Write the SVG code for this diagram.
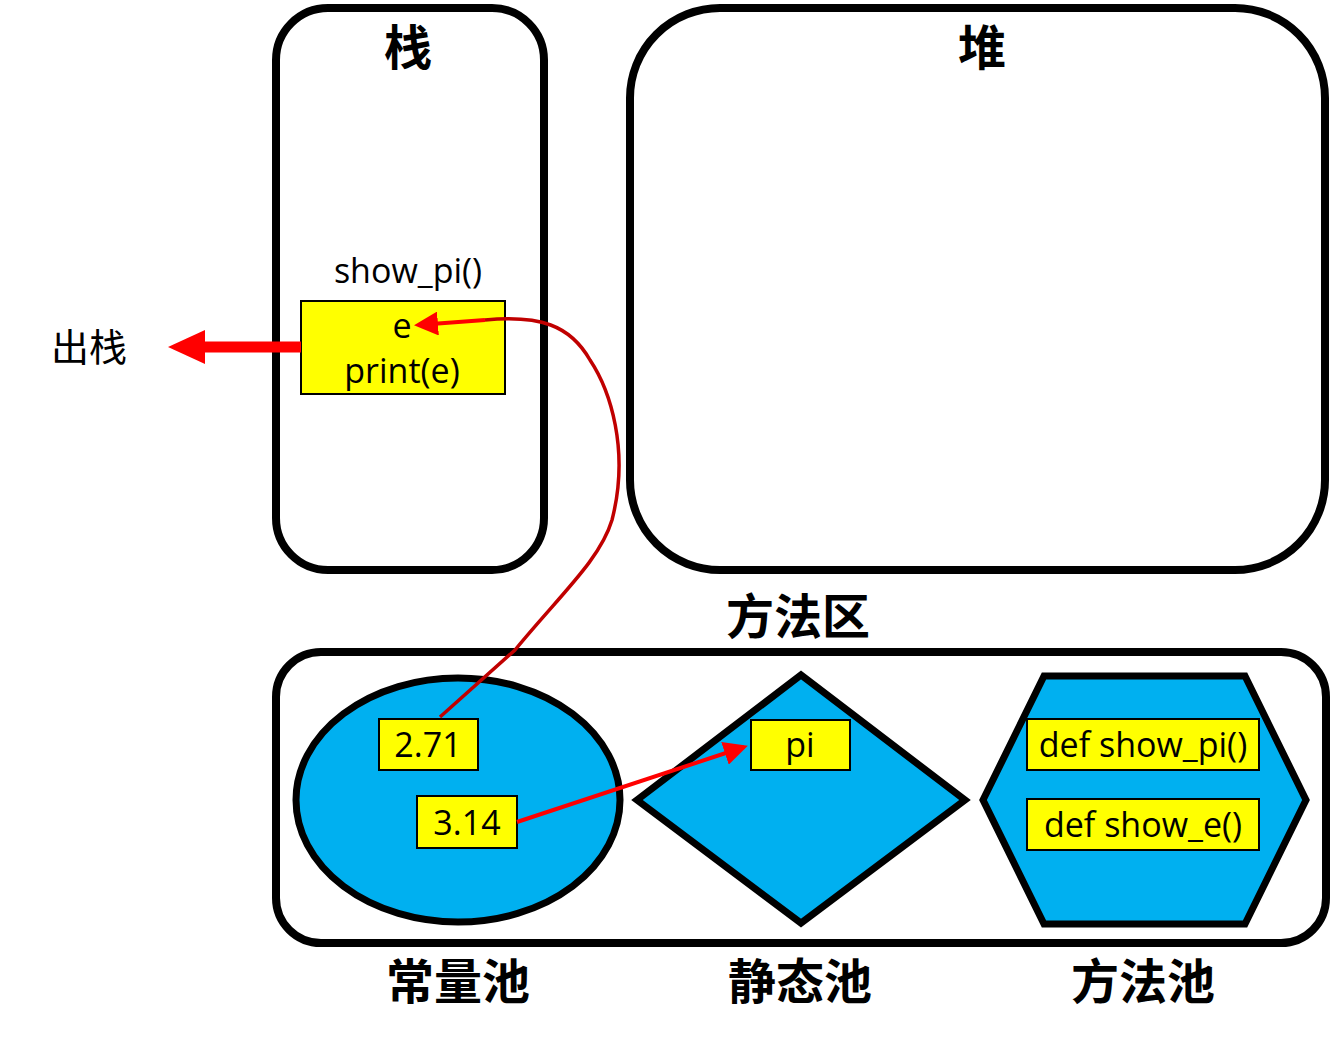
<svg xmlns="http://www.w3.org/2000/svg" width="1330" height="1040" viewBox="0 0 1330 1040">
<style>
.box{fill:#fff;stroke:#000;stroke-width:8}
.shape{fill:#00B0F0;stroke:#000;stroke-width:7}
.yb{fill:#FFFF00;stroke:#000;stroke-width:2}
.t{font-family:"Open Sans","Liberation Sans",sans-serif;font-size:34px;fill:#000;text-anchor:middle}
.h{font-family:"Noto Sans CJK SC",sans-serif;font-weight:bold;font-size:48px;fill:#000;text-anchor:middle}
.c{font-family:"Noto Sans CJK SC",sans-serif;font-size:38px;fill:#000;text-anchor:middle}
</style>
<defs>
<marker id="ah" markerWidth="6" markerHeight="6" refX="5" refY="3" orient="auto" markerUnits="strokeWidth"><path d="M0,0 L6,3 L0,6 z" fill="#FF0000"/></marker>
</defs>
<g id="stack">
<rect class="box" x="276" y="8" width="268" height="562" rx="52"/>
<text class="h" x="408" y="65">栈</text>
</g>
<g id="heap">
<rect class="box" x="630" y="8" width="695" height="562" rx="90"/>
<text class="h" x="982" y="65">堆</text>
</g>
<g id="method-area">
<rect class="box" x="276" y="652" width="1050" height="291" rx="45"/>
<text class="h" x="798" y="634">方法区</text>
</g>
<g id="frame">
<text class="t" x="408" y="283">show_pi()</text>
<rect class="yb" x="301" y="301" width="204" height="93"/>
<text class="t" x="402" y="338">e</text>
<text class="t" x="402" y="383">print(e)</text>
</g>
<g id="pop-label"><text class="c" x="89" y="361">出栈</text></g>
<g id="constant-pool">
<ellipse class="shape" cx="458" cy="800" rx="162" ry="122"/>
<rect class="yb" x="379" y="719" width="99" height="51"/>
<text class="t" x="428" y="757">2.71</text>
<rect class="yb" x="417" y="796" width="100" height="52"/>
<text class="t" x="467" y="835">3.14</text>
<text class="h" x="458" y="999">常量池</text>
</g>
<g id="static-pool">
<polygon class="shape" points="637,800 801,675 965,800 801,923"/>
<rect class="yb" x="751" y="720" width="99" height="50"/>
<text class="t" x="800" y="757">pi</text>
<text class="h" x="800" y="999">静态池</text>
</g>
<g id="method-pool">
<polygon class="shape" points="983,800 1044,676 1245,676 1306,800 1245,924 1044,924"/>
<rect class="yb" x="1027" y="719" width="232" height="51"/>
<text class="t" x="1143" y="757">def show_pi()</text>
<rect class="yb" x="1027" y="799" width="232" height="51"/>
<text class="t" x="1143" y="837">def show_e()</text>
<text class="h" x="1143" y="999">方法池</text>
</g>
<g id="connectors">
<path d="M301,347 L200,347" stroke="#FF0000" stroke-width="11" fill="none"/>
<polygon points="168,347 205,330 205,364" fill="#FF0000"/>
<path d="M440,717 L515,650 C560,595 600,560 612,520 C630,450 610,390 590,360 C570,325 540,315 485,320" stroke="#C00000" stroke-width="3.5" fill="none"/>
<path d="M485,320 L418,325" stroke="#FF0000" stroke-width="4" fill="none" marker-end="url(#ah)"/>
<path d="M517,822 L744,747" stroke="#FF0000" stroke-width="4" fill="none" marker-end="url(#ah)"/>
</g>
</svg>
